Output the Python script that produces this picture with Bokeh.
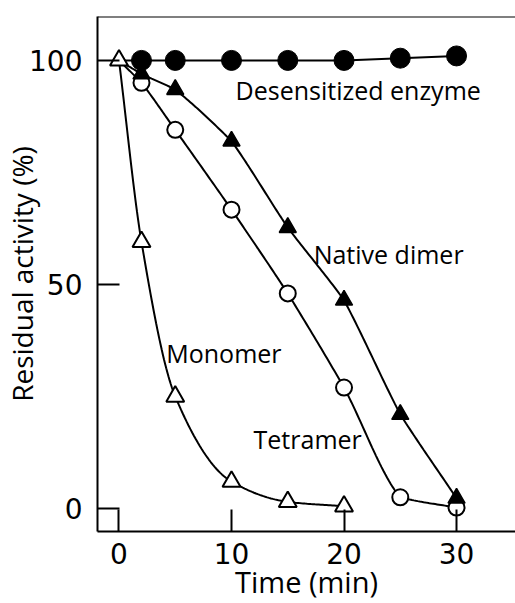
import numpy as np
from bokeh.plotting import figure
from bokeh.models import FixedTicker, Span, Label
from bokeh.embed import file_html
from bokeh.resources import INLINE

# ---- data ----
time_min = [0, 2, 5, 10, 15, 20, 25, 30]
desensitized = [100, 100, 100, 100, 100, 100, 100.5, 101]
native_dimer = [100, 97, 93.5, 82, 62.7, 46.5, 21, 2.3]
tetramer = [100, 95, 84.5, 66.7, 48, 27, 2.5, 0.2]
monomer_time = [0, 2, 5, 10, 15, 20]
monomer = [100, 59.5, 25, 6, 1.5, 0.5]

x_ticks = [0, 10, 20, 30]
y_ticks = [0, 50, 100]

FONT = "Open Sans"
NUM_FONT = "DejaVu Sans"


def smooth(x, y, bend=1.0, n=30):
    """Hermite curve through the points; bend=1 monotone-cubic tangents, bend=0 straight segments."""
    x = np.asarray(x, float)
    y = np.asarray(y, float)
    h = np.diff(x)
    d = np.diff(y) / h
    m = np.zeros_like(y)
    m[0], m[-1] = d[0], d[-1]
    for i in range(1, len(x) - 1):
        if d[i - 1] * d[i] <= 0:
            m[i] = 0
        else:
            w1 = 2 * h[i] + h[i - 1]
            w2 = h[i] + 2 * h[i - 1]
            m[i] = (w1 + w2) / (w1 / d[i - 1] + w2 / d[i])
    xs, ys = [], []
    for i in range(len(x) - 1):
        m0 = bend * m[i] + (1 - bend) * d[i]
        m1 = bend * m[i + 1] + (1 - bend) * d[i]
        t = np.linspace(0, 1, n, endpoint=(i == len(x) - 2))
        h00 = 2 * t**3 - 3 * t**2 + 1
        h10 = t**3 - 2 * t**2 + t
        h01 = -2 * t**3 + 3 * t**2
        h11 = t**3 - t**2
        xs.extend(x[i] + t * h[i])
        ys.extend(h00 * y[i] + h10 * h[i] * m0 + h01 * y[i + 1] + h11 * h[i] * m1)
    return xs, ys


p = figure(
    width=515, height=603,
    x_range=(-1.91, 35.24), y_range=(-5.13, 109.8),
    output_backend="svg", toolbar_location=None,
    min_border_left=97, min_border_right=0, min_border_top=16, min_border_bottom=72,
)
p.outline_line_color = None
p.xgrid.visible = False
p.ygrid.visible = False
p.background_fill_color = "white"
p.border_fill_color = "white"

for ax in (p.xaxis[0], p.yaxis[0]):
    ax.major_tick_in = 22
    ax.major_tick_out = 0
    ax.minor_tick_line_color = None
    ax.axis_line_width = 2
    ax.major_tick_line_width = 2
    ax.axis_line_color = "black"
    ax.major_tick_line_color = "black"
    ax.major_label_text_font = NUM_FONT
    ax.major_label_text_font_size = "28px"
    ax.major_label_text_color = "black"
    ax.axis_label_text_font = FONT
    ax.axis_label_text_font_style = "normal"
    ax.axis_label_text_color = "black"

p.xaxis.ticker = FixedTicker(ticks=x_ticks)
p.yaxis.ticker = FixedTicker(ticks=y_ticks)
p.xaxis.major_label_standoff = 11
p.yaxis.major_label_standoff = 15
p.xaxis.axis_label = "Time (min)"
p.yaxis.axis_label = "Residual activity (%)"
p.xaxis.axis_label_text_font_size = "29px"
p.yaxis.axis_label_text_font_size = "28px"
p.xaxis.axis_label_standoff = -5
p.yaxis.axis_label_standoff = -15

p.add_layout(Span(location=109.8, dimension="width", line_color="black", line_width=2))

LW = 2
# curves
p.line(time_min, desensitized, line_color="black", line_width=LW)
xs, ys = smooth(time_min, native_dimer, bend=0.35)
p.line(xs, ys, line_color="black", line_width=LW)
xs, ys = smooth(time_min, tetramer, bend=0.5)
p.line(xs, ys, line_color="black", line_width=LW)
xs, ys = smooth(monomer_time, monomer, bend=1.0)
p.line(xs, ys, line_color="black", line_width=LW)

# markers
p.scatter(time_min[1:], tetramer[1:], marker="circle", size=16,
          fill_color="white", line_color="black", line_width=2)
p.scatter(time_min[1:], native_dimer[1:], marker="triangle", size=17,
          fill_color="black", line_color="black", line_width=1.5)
p.scatter(time_min[1:], desensitized[1:], marker="circle", size=20,
          fill_color="black", line_color="black", line_width=1)
p.scatter(monomer_time, monomer, marker="triangle", size=18,
          fill_color="white", line_color="black", line_width=2)

# curve names
for txt, x, y in [("Desensitized enzyme", 10.36, 93.3),
                  ("Native dimer", 17.3, 56.9),
                  ("Monomer", 4.2, 34.8),
                  ("Tetramer", 11.96, 15.6)]:
    p.add_layout(Label(x=x, y=y, text=txt, text_font=FONT, text_font_size="25px",
                       text_baseline="middle", text_align="left", text_color="black"))

open("out.html", "w").write(file_html(p, INLINE))
